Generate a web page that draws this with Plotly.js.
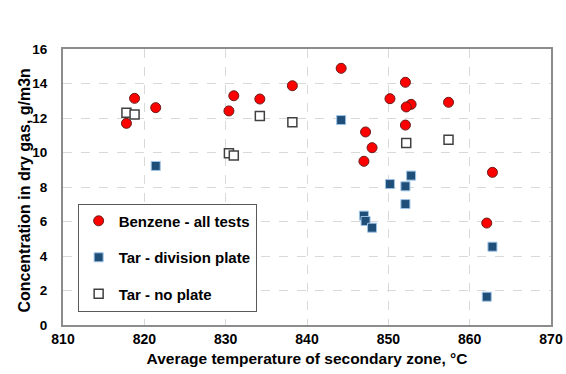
<!DOCTYPE html>
<html>
<head>
<meta charset="utf-8">
<script src="https://cdn.plot.ly/plotly-3.0.1.min.js"></script>
<style>html,body{margin:0;padding:0;background:#fff;}#chart{width:566px;height:374px;}</style>
</head>
<body>
<div id="chart"></div>
<script>
// Benzene - all tests
const benzeneX = [818.8, 821.4, 817.8, 831.0, 830.4, 834.2, 838.2, 844.2, 852.1, 850.2, 852.8, 852.2, 857.4, 852.1, 847.2, 848.0, 847.0, 862.8, 862.1];
const benzeneY = [13.14, 12.60, 11.69, 13.29, 12.41, 13.10, 13.87, 14.88, 14.07, 13.12, 12.79, 12.64, 12.91, 11.59, 11.19, 10.28, 9.49, 8.85, 5.91];
// Tar - division plate
const tarPlateX = [821.4, 844.2, 852.8, 850.2, 852.1, 852.1, 847.0, 847.2, 848.0, 862.8, 862.1];
const tarPlateY = [9.22, 11.88, 8.66, 8.17, 8.04, 7.01, 6.34, 6.03, 5.64, 4.54, 1.64];
// Tar - no plate
const tarNoPlateX = [817.8, 818.8, 834.2, 838.2, 830.4, 831.0, 852.2, 857.4];
const tarNoPlateY = [12.31, 12.21, 12.12, 11.75, 9.95, 9.82, 10.55, 10.74];

const xTicks = [810, 820, 830, 840, 850, 860, 870];
const yTicks = [0, 2, 4, 6, 8, 10, 12, 14, 16];
const xTitle = 'Average temperature of secondary zone, °C';
const yTitle = 'Concentration in dry gas, g/m3n';

const FONT = 'Liberation Sans, Arial, sans-serif';

const traces = [
  {
    x: benzeneX, y: benzeneY, type: 'scatter', mode: 'markers',
    name: 'Benzene - all tests', legendgroup: 'a',
    marker: {symbol: 'circle', size: 10, color: '#ff0000', line: {color: '#6b1a1a', width: 1}}
  },
  {
    x: tarPlateX, y: tarPlateY, type: 'scatter', mode: 'markers',
    name: 'Tar - division plate', legendgroup: 'b',
    marker: {symbol: 'square', size: 9, color: '#1f4e79', line: {color: '#9dc3e6', width: 1}}
  },
  {
    x: tarNoPlateX, y: tarNoPlateY, type: 'scatter', mode: 'markers',
    name: 'Tar - no plate', legendgroup: 'c',
    marker: {symbol: 'square', size: 9, color: '#ffffff', line: {color: '#404040', width: 1.5}}
  }
];

const layout = {
  width: 566, height: 374,
  margin: {l: 63, r: 15, t: 49, b: 49},
  paper_bgcolor: '#ffffff', plot_bgcolor: '#ffffff',
  font: {family: FONT, color: '#000000', size: 13, weight: 'bold'},
  showlegend: true,
  legend: {
    x: 0.03, y: 0.44, xanchor: 'left', yanchor: 'top',
    bgcolor: '#ffffff', bordercolor: '#595959', borderwidth: 1,
    font: {family: FONT, size: 15, color: '#000000', weight: 'bold'},
    traceorder: 'grouped', tracegroupgap: 14
  },
  xaxis: {
    range: [810, 870], tickvals: xTicks, ticktext: xTicks.map(String),
    showgrid: true, gridcolor: '#d9d9d9', griddash: 'dash', gridwidth: 1,
    showline: true, mirror: true, linecolor: '#8c8c8c', linewidth: 2,
    zeroline: false, ticks: '',
    tickfont: {family: FONT, size: 14, weight: 'bold'},
    title: {text: xTitle, font: {family: FONT, size: 15.5, weight: 'bold'}, standoff: 7}
  },
  yaxis: {
    range: [0, 16], tickvals: yTicks, ticktext: yTicks.map(String),
    showgrid: true, gridcolor: '#d9d9d9', griddash: 'dash', gridwidth: 1,
    showline: true, mirror: true, linecolor: '#8c8c8c', linewidth: 2,
    zeroline: false, ticks: '', ticklabelstandoff: 11,
    tickfont: {family: FONT, size: 13.5, weight: 'bold'}
  },
  annotations: [{
    text: yTitle, xref: 'paper', yref: 'paper',
    x: (25 - 63) / 488, y: 0.487, xanchor: 'center', yanchor: 'middle',
    textangle: -90, showarrow: false,
    font: {family: FONT, size: 16, weight: 'bold', color: '#000000'}
  }]
};

Plotly.newPlot('chart', traces, layout, {displayModeBar: false, staticPlot: true});
</script>
</body>
</html>
